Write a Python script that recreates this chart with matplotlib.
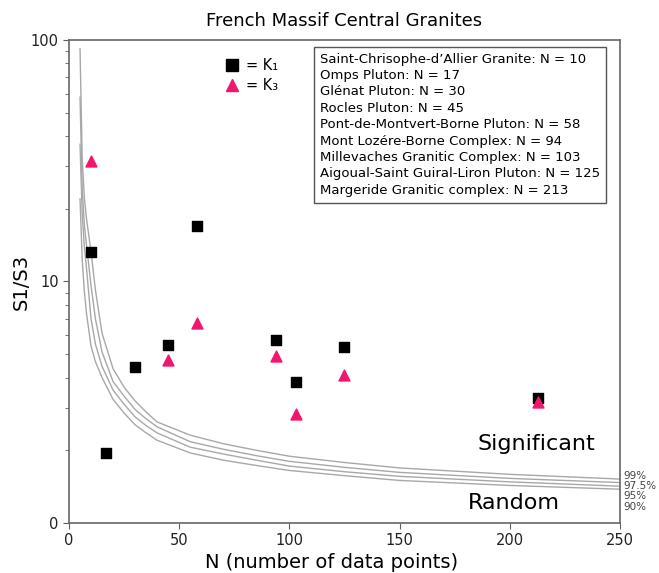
import matplotlib.pyplot as plt
from matplotlib.lines import Line2D

# sample sizes and anisotropy ratios (S1/S3) for each granite body
n_k1 = [10, 17, 30, 45, 58, 94, 103, 125, 213]
ratio_k1 = [13.2, 1.95, 4.43, 5.46, 17.0, 5.73, 3.84, 5.36, 3.29]
n_k3 = [10, 45, 58, 94, 103, 125, 213]
ratio_k3 = [31.6, 4.73, 6.73, 4.92, 2.83, 4.10, 3.17]

bodies = ["Saint-Chrisophe-d\u2019Allier Granite: N = 10",
          "Omps Pluton: N = 17",
          "Gl\u00e9nat Pluton: N = 30",
          "Rocles Pluton: N = 45",
          "Pont-de-Montvert-Borne Pluton: N = 58",
          "Mont Loz\u00e9re-Borne Complex: N = 94",
          "Millevaches Granitic Complex: N = 103",
          "Aigoual-Saint Guiral-Liron Pluton: N = 125",
          "Margeride Granitic complex: N = 213"]

# critical S1/S3 values against N for each confidence level
crit_n = [5, 6, 7, 8, 10, 12, 15, 20, 25, 30, 35, 40, 55, 70, 85, 100, 125, 150, 200, 250]
crit_99 = [92, 32, 22, 18, 13.3, 9.2, 6.1, 4.35, 3.65, 3.2, 2.88, 2.62, 2.31,
           2.13, 2.0, 1.89, 1.78, 1.69, 1.59, 1.52]
crit_975 = [58, 24, 17, 14, 9.6, 7.0, 5.1, 3.85, 3.35, 2.95, 2.7, 2.5, 2.17,
            2.02, 1.9, 1.80, 1.7, 1.62, 1.53, 1.47]
crit_95 = [37, 19, 13.8, 11.2, 7.0, 5.5, 4.45, 3.55, 3.1, 2.75, 2.53, 2.36, 2.06,
           1.93, 1.82, 1.72, 1.63, 1.56, 1.48, 1.42]
crit_90 = [22, 12.3, 9.0, 7.3, 5.4, 4.65, 4.0, 3.25, 2.85, 2.55, 2.36, 2.2, 1.95,
           1.82, 1.73, 1.65, 1.57, 1.5, 1.43, 1.38]
crit_labels = ["99%", "97.5%", "95%", "90%"]

fig = plt.figure(figsize=(6.59, 5.73), dpi=100)
ax = fig.add_axes([0.1047, 0.0873, 0.8361, 0.8429])

for c in [crit_99, crit_975, crit_95, crit_90]:
    ax.plot(crit_n, c, color='#a8a8a8', linewidth=1.0, zorder=1)

ax.scatter(n_k1, ratio_k1, marker='s', s=62, color='black', zorder=3)
ax.scatter(n_k3, ratio_k3, marker='^', s=62, color='#f2166d', zorder=4)

ax.set_yscale('log')
ax.set_xlim(0, 250)
ax.set_ylim(1, 100)
ax.set_yticks([1, 10, 100])
ax.set_yticklabels(['0', '10', '100'])
ax.set_xticks([0, 50, 100, 150, 200, 250])
ax.tick_params(axis='both', which='major', labelsize=10.5, length=4,
               color='#606060', labelcolor='#222222')
ax.tick_params(axis='y', which='minor', length=3, color='#606060')
ax.yaxis.set_minor_formatter(plt.NullFormatter())
for sp in ax.spines.values():
    sp.set_color('#666666')
    sp.set_linewidth(1.2)

ax.set_title('French Massif Central Granites', fontsize=13, pad=10)
ax.set_ylabel('S1/S3', fontsize=14)
ax.yaxis.set_label_coords(-0.07, 0.5)
ax.set_xlabel('N (number of data points)', fontsize=14)
ax.xaxis.set_label_coords(0.476, -0.062)

# percentage labels beside the right-hand ends of the curves
for lab, yf in zip(crit_labels, [0.097, 0.077, 0.056, 0.033]):
    ax.text(1.006, yf, lab, transform=ax.transAxes, fontsize=7.5,
            color='#444444', va='center', ha='left')

ax.text(212, 2.12, 'Significant', fontsize=16, ha='center', va='center')
ax.text(202, 1.21, 'Random', fontsize=16, ha='center', va='center')

ax.text(0.455, 0.974, "\n".join(bodies), transform=ax.transAxes,
        fontsize=9.5, va='top', ha='left', linespacing=1.34,
        bbox=dict(boxstyle='square,pad=0.45', facecolor='white',
                  edgecolor='#555555', linewidth=1.0))

handles = [Line2D([], [], marker='s', linestyle='none', color='black', markersize=8),
           Line2D([], [], marker='^', linestyle='none', color='#f2166d', markersize=8)]
ax.legend(handles, ['= K\u2081', '= K\u2083'], loc='upper left',
          bbox_to_anchor=(0.258, 0.99), frameon=False, fontsize=10.5,
          handletextpad=0.5, handlelength=1.0, labelspacing=0.35)

fig.savefig('out.png', dpi=100)
